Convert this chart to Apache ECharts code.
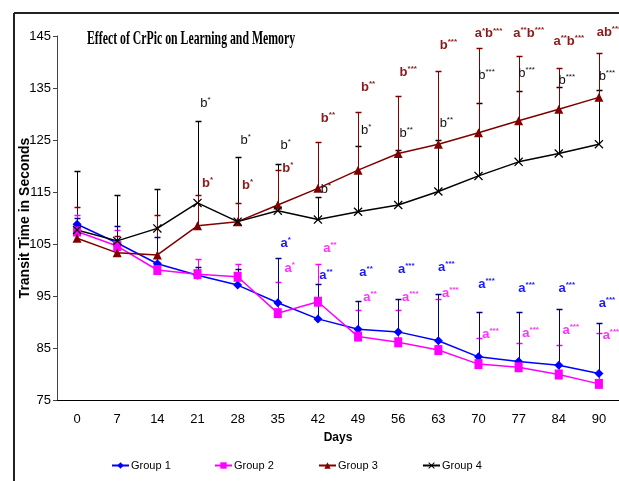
<!DOCTYPE html>
<html>
<head>
<meta charset="utf-8">
<script src="https://cdn.jsdelivr.net/npm/echarts@6/dist/echarts.min.js"></script>
<style>
  html, body { margin: 0; padding: 0; background: #fff; }
  #chart { width: 619px; height: 481px; }
</style>
</head>
<body>
<div id="chart"></div>
<script>
// days on the x axis
const days = ['0', '7', '14', '21', '28', '35', '42', '49', '56', '63', '70', '77', '84', '90'];

// mean transit time per group
const group1 = [108.8, 105.2, 101.2, 99.0, 97.1, 93.7, 90.6, 88.6, 88.1, 86.4, 83.3, 82.4, 81.7, 80.1];
const group2 = [107.4, 104.6, 100.0, 99.2, 98.7, 91.7, 93.9, 87.2, 86.1, 84.6, 81.9, 81.3, 79.9, 78.1];
const group3 = [106.1, 103.3, 102.9, 108.5, 109.3, 112.5, 115.7, 119.2, 122.4, 124.2, 126.4, 128.7, 130.9, 133.2];
const group4 = [107.7, 105.6, 108.0, 112.9, 109.3, 111.4, 109.7, 111.2, 112.5, 115.1, 118.1, 120.8, 122.4, 124.2];

// upper end of the error bars
const group1Top = [110.0, 108.5, 106.3, 100.5, 100.1, 102.4, 97.4, 94.0, 94.5, 95.4, 92.0, 92.0, 92.5, 89.9];
const group2Top = [110.6, 107.7, 101.5, 102.1, 101.2, 97.6, 101.1, 92.3, 92.3, 94.5, 87.0, 85.9, 85.6, 87.9];
const group3Top = [112.2, 106.5, 110.6, 114.4, 112.9, 119.2, 124.7, 130.3, 133.5, 138.3, 142.6, 141.2, 138.8, 141.7];
const group4Top = [119.1, 114.4, 115.6, 128.6, 121.7, 120.4, 114.1, 123.9, 123.0, 125.0, 132.1, 134.5, 135.1, 134.6];

// significance marks and the value where each mark sits
const group1Sig = ['', '', '', '', '', 'a*', 'a**', 'a**', 'a***', 'a***', 'a***', 'a***', 'a***', 'a***'];
const group1SigAt = [null, null, null, null, null, 105.2, 99.0, 99.7, 100.3, 100.6, 97.3, 96.5, 96.5, 93.7];
const group2Sig = ['', '', '', '', '', 'a*', 'a**', 'a**', 'a***', 'a***', 'a***', 'a***', 'a***', 'a***'];
const group2SigAt = [null, null, null, null, null, 100.4, 104.2, 94.9, 94.9, 95.6, 87.8, 87.9, 88.5, 87.5];
const group3Sig = ['', '', '', 'b*', 'b*', 'b*', 'b**', 'b**', 'b***', 'b***', 'a*b***', 'a**b***', 'a**b***', 'ab***'];
const group3SigAt = [null, null, null, 116.7, 116.3, 119.6, 129.2, 135.3, 138.1, 143.3, 145.5, 145.6, 144.1, 145.8];
const group4Sig = ['', '', '', 'b*', 'b*', 'b*', 'b*', 'b*', 'b**', 'b**', 'b***', 'b***', 'b***', 'b***'];
const group4SigAt = [null, null, null, 132.1, 125.0, 124.0, 115.6, 126.9, 126.4, 128.3, 137.5, 137.9, 136.5, 137.3];

const sans = '"Liberation Sans", Arial, sans-serif';
const xMark = 'path://M0,1L1,0L5,4L9,0L10,1L6,5L10,9L9,10L5,6L1,10L0,9L4,5Z';

function errorBars(name, means, tops, color) {
    return {
        name: name,
        type: 'custom',
        z: 1,
        silent: true,
        data: means.map((m, i) => [i, m, tops[i]]),
        renderItem: function (params, api) {
            const i = api.value(0);
            const p0 = api.coord([i, api.value(1)]);
            const p1 = api.coord([i, api.value(2)]);
            const x = Math.round(p0[0]) + 0.5;
            const y = Math.round(p1[1]) + 0.5;
            return {
                type: 'group',
                children: [
                    { type: 'line', shape: { x1: x, y1: p0[1], x2: x, y2: y }, style: { stroke: color, lineWidth: 1 } },
                    { type: 'line', shape: { x1: x - 3, y1: y, x2: x + 3, y2: y }, style: { stroke: color, lineWidth: 1.5 } }
                ]
            };
        }
    };
}

function toRich(str) {
    return str.match(/[a-z]|\*+/g).map(t => t[0] === '*' ? '{s|' + t + '}' : '{b|' + t + '}').join('');
}

function sigLabels(name, marks, at, color, dx, weight) {
    const data = [];
    marks.forEach((m, i) => { if (m) data.push([i, at[i]]); });
    return {
        name: name,
        type: 'custom',
        z: 5,
        silent: true,
        data: data,
        renderItem: function (params, api) {
            const i = api.value(0);
            const p = api.coord([i, api.value(1)]);
            return {
                type: 'text',
                x: p[0] + dx,
                y: p[1],
                style: {
                    text: toRich(marks[i]),
                    align: 'center',
                    verticalAlign: 'middle',
                    fill: color,
                    rich: {
                        b: { fontFamily: sans, fontSize: 13, fontWeight: weight, fill: color, lineHeight: 14, verticalAlign: 'bottom' },
                        s: { fontFamily: sans, fontSize: 8, fontWeight: weight, fill: color, lineHeight: 14, verticalAlign: 'top' }
                    }
                }
            };
        }
    };
}

function groupLine(name, data, color, symbol, size) {
    return {
        name: name,
        type: 'line',
        data: data,
        z: 3,
        symbol: symbol,
        symbolSize: size,
        showAllSymbol: true,
        lineStyle: { color: color, width: 1.5 },
        itemStyle: { color: color },
        emphasis: { disabled: true }
    };
}

const chart = echarts.init(document.getElementById('chart'));
const legendBase = {
    top: 460,
    padding: 0,
    itemWidth: 17,
    itemHeight: 8,
    itemGap: 4,
    textStyle: { fontFamily: sans, fontSize: 11, color: '#000', padding: [0, 0, 0, -3] }
};
chart.setOption({
    animation: false,
    grid: { left: 57, right: 0, top: 36, bottom: 81 },
    graphic: [
        { type: 'line', shape: { x1: 14, y1: 13, x2: 619, y2: 13 }, style: { stroke: '#222', lineWidth: 2 } },
        { type: 'line', shape: { x1: 14, y1: 13, x2: 14, y2: 481 }, style: { stroke: '#222', lineWidth: 2 } },
        {
            type: 'text', x: 87, y: 30, scaleX: 0.62, originX: 0,
            style: { text: 'Effect of CrPic on Learning and Memory', font: 'bold 19px "Liberation Serif", serif', fill: '#000' }
        }
    ],
    legend: [
        Object.assign({ left: 111, data: ['Group 1'] }, legendBase),
        Object.assign({ left: 214, data: ['Group 2'] }, legendBase),
        Object.assign({ left: 318, data: ['Group 3'] }, legendBase),
        Object.assign({ left: 422, data: ['Group 4'] }, legendBase)
    ],
    xAxis: {
        type: 'category',
        data: days,
        name: 'Days',
        nameLocation: 'middle',
        nameGap: 32,
        nameTextStyle: { fontFamily: sans, fontSize: 12, fontWeight: 'bold', color: '#000' },
        axisLine: { lineStyle: { color: '#000', width: 1 } },
        axisTick: { length: 4, lineStyle: { color: '#000' } },
        axisLabel: { fontFamily: sans, fontSize: 13, color: '#000', margin: 13 },
        splitLine: { show: false }
    },
    yAxis: {
        type: 'value',
        min: 75,
        max: 145,
        interval: 10,
        name: 'Transit Time in Seconds',
        nameLocation: 'middle',
        nameGap: 25,
        nameMoveOverlap: false,
        nameTextStyle: { fontFamily: sans, fontSize: 14, fontWeight: 'bold', color: '#000' },
        axisLine: { show: true, lineStyle: { color: '#444', width: 1 } },
        axisTick: { show: true, length: 4, lineStyle: { color: '#444' } },
        axisLabel: { fontFamily: sans, fontSize: 13, color: '#000', margin: 6 },
        splitLine: { show: false }
    },
    series: [
        errorBars('e4', group4, group4Top, '#000000'),
        errorBars('e3', group3, group3Top, '#800000'),
        errorBars('e2', group2, group2Top, '#ff00ff'),
        errorBars('e1', group1, group1Top, '#000080'),
        groupLine('Group 1', group1, '#0000ff', 'diamond', 9),
        groupLine('Group 2', group2, '#ff00ff', 'rect', [8, 10]),
        groupLine('Group 3', group3, '#800000', 'triangle', 9),
        groupLine('Group 4', group4, '#000000', xMark, 9),
        sigLabels('s1', group1Sig, group1SigAt, '#1a1aff', 8, 'bold'),
        sigLabels('s2', group2Sig, group2SigAt, '#ff33ff', 12, 'bold'),
        sigLabels('s3', group3Sig, group3SigAt, '#8b1a1a', 10, 'bold'),
        sigLabels('s4', group4Sig, group4SigAt, '#111111', 8, 'normal')
    ]
});
</script>
</body>
</html>
